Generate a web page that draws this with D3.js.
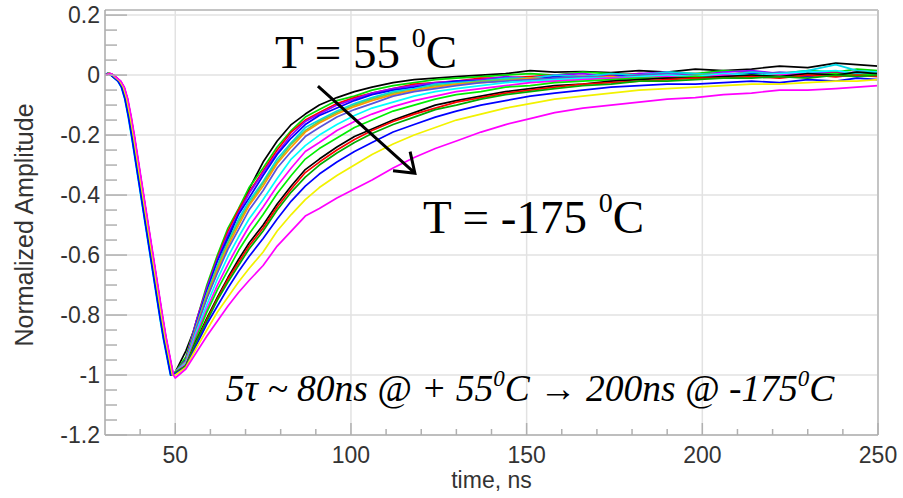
<!DOCTYPE html>
<html>
<head>
<meta charset="utf-8">
<script src="https://cdn.jsdelivr.net/npm/d3@7"></script>
<style>
  body { margin: 0; background: #fff; }
  svg { display: block; }
  .tick-label { font-family: "Liberation Sans", Arial, sans-serif; font-size: 23px; fill: #333; }
  .axis-title { font-family: "Liberation Sans", Arial, sans-serif; font-size: 23px; fill: #333; }
  .note { font-family: "Liberation Serif", "Times New Roman", serif; fill: #000; }
</style>
</head>
<body>
<svg id="chart" width="903" height="498"></svg>
<script>
// axis ticks
const xTicks = [50, 100, 150, 200, 250];
const yTicks = [0.2, 0, -0.2, -0.4, -0.6, -0.8, -1, -1.2];

// falling edge, common to all pulses
const edgeT = [30, 31, 32, 33, 34, 35, 36, 37, 38, 40, 42, 44, 46, 47, 48, 49];
const edgeV = [0, 0.005, 0, -0.01, -0.02, -0.04, -0.08, -0.14, -0.21, -0.36, -0.51, -0.66, -0.81, -0.88, -0.94, -1.0];
// small arrival-time differences of each pulse on the edge (ns)
const edgeLag = [0.3, -0.2, 0.1, 0.4, -0.3, 0.2, 0, -0.1, 0.3, -0.4, 0.2, 0.1, -0.2, 0.4, 0, -0.3, 0.2, 0.5];

// recovery sample times (ns)
const recT = [50, 53, 56, 59, 62, 65, 68, 71, 75, 79, 83, 87, 91, 96, 101, 106, 112, 118, 124, 130,
              137, 144, 151, 158, 166, 174, 182, 190, 198, 206, 214, 222, 230, 238, 244, 250];

// recovery of each temperature, fastest (55 C) to slowest (-175 C)
const s1 = [-0.99,-0.92,-0.83,-0.74,-0.64,-0.55,-0.46,-0.38,-0.29,-0.22,-0.165,-0.13,-0.1,-0.075,-0.055,-0.04,-0.025,-0.015,-0.01,-0.005,0.0,0.005,0.015,0.01,0.012,0.008,0.015,0.01,0.02,0.015,0.02,0.03,0.025,0.04,0.035,0.03];
const s2 = [-0.99,-0.94,-0.82,-0.7,-0.6,-0.51,-0.445,-0.375,-0.31,-0.24,-0.185,-0.14,-0.115,-0.085,-0.07,-0.05,-0.035,-0.025,-0.015,-0.01,-0.005,0.0,0.005,0.0,0.01,0.005,0.0,0.01,0.005,0.015,0.01,0.005,0.015,0.01,0.02,0.015];
const s3 = [-0.99,-0.95,-0.82,-0.71,-0.61,-0.52,-0.45,-0.39,-0.32,-0.25,-0.19,-0.15,-0.125,-0.095,-0.075,-0.06,-0.045,-0.03,-0.025,-0.02,-0.01,-0.01,-0.005,0.0,-0.005,0.0,0.005,0.0,0.005,0.0,0.01,0.005,0.0,0.01,0.005,0.01];
const s4 = [-0.99,-0.95,-0.82,-0.71,-0.615,-0.53,-0.46,-0.395,-0.325,-0.26,-0.2,-0.155,-0.13,-0.1,-0.08,-0.06,-0.045,-0.035,-0.025,-0.02,-0.015,-0.005,-0.01,0.0,0.005,-0.005,0.005,0.01,0.0,0.01,0.015,0.005,0.01,0.005,0.01,0.0];
const s5 = [-0.99,-0.95,-0.83,-0.72,-0.62,-0.54,-0.465,-0.41,-0.335,-0.265,-0.21,-0.165,-0.135,-0.11,-0.085,-0.065,-0.05,-0.04,-0.03,-0.02,-0.02,-0.01,-0.015,-0.005,-0.01,-0.005,0.0,-0.01,0.0,-0.005,0.005,0.0,-0.005,0.005,0.0,0.005];
const s6 = [-0.99,-0.955,-0.835,-0.73,-0.635,-0.555,-0.48,-0.42,-0.355,-0.28,-0.225,-0.175,-0.15,-0.12,-0.095,-0.075,-0.055,-0.045,-0.03,-0.025,-0.02,-0.01,-0.01,0.0,-0.005,0.005,0.0,0.01,0.005,0.0,0.01,0.005,0.015,0.035,0.015,0.01];
const s7 = [-0.99,-0.955,-0.84,-0.73,-0.64,-0.56,-0.49,-0.43,-0.36,-0.29,-0.23,-0.185,-0.155,-0.125,-0.1,-0.08,-0.06,-0.05,-0.035,-0.03,-0.02,-0.015,-0.01,-0.015,-0.005,-0.01,0.0,-0.005,0.0,0.005,-0.005,0.0,0.005,0.0,0.01,0.005];
const s8 = [-0.99,-0.955,-0.84,-0.74,-0.65,-0.57,-0.5,-0.435,-0.37,-0.295,-0.24,-0.19,-0.16,-0.13,-0.105,-0.085,-0.065,-0.05,-0.04,-0.03,-0.025,-0.02,-0.01,-0.015,-0.01,-0.005,-0.01,0.0,-0.005,0.0,-0.005,0.005,0.0,-0.005,0.005,0.0];
const s9 = [-0.99,-0.96,-0.845,-0.745,-0.66,-0.58,-0.515,-0.45,-0.385,-0.31,-0.255,-0.205,-0.175,-0.14,-0.115,-0.095,-0.07,-0.055,-0.045,-0.035,-0.025,-0.02,-0.015,-0.01,-0.005,-0.01,0.0,0.005,-0.005,0.005,0.0,0.01,0.005,0.0,0.01,0.005];
const s10 = [-0.99,-0.96,-0.855,-0.765,-0.68,-0.605,-0.54,-0.48,-0.415,-0.345,-0.28,-0.235,-0.2,-0.165,-0.135,-0.11,-0.09,-0.07,-0.055,-0.045,-0.035,-0.025,-0.02,-0.015,-0.01,-0.01,-0.005,0.0,-0.005,0.005,0.0,0.005,0.01,0.015,0.005,0.01];
const s11 = [-0.99,-0.965,-0.865,-0.78,-0.7,-0.63,-0.565,-0.505,-0.44,-0.37,-0.31,-0.255,-0.225,-0.185,-0.155,-0.13,-0.105,-0.085,-0.07,-0.055,-0.045,-0.035,-0.025,-0.02,-0.015,-0.01,-0.01,-0.005,-0.01,0.0,-0.005,0.0,0.005,-0.005,0.0,0.005];
const s12 = [-0.99,-0.97,-0.875,-0.79,-0.715,-0.65,-0.585,-0.53,-0.465,-0.395,-0.335,-0.28,-0.245,-0.21,-0.175,-0.15,-0.12,-0.1,-0.08,-0.065,-0.055,-0.04,-0.035,-0.025,-0.02,-0.015,-0.01,-0.01,-0.005,-0.01,0.0,-0.005,0.0,0.005,0.0,0.005];
const s13 = [-0.995,-0.97,-0.885,-0.81,-0.74,-0.675,-0.615,-0.56,-0.5,-0.43,-0.37,-0.315,-0.28,-0.24,-0.205,-0.18,-0.15,-0.125,-0.1,-0.085,-0.07,-0.055,-0.045,-0.035,-0.03,-0.02,-0.015,-0.01,-0.01,-0.005,0.0,-0.005,0.005,0.0,0.01,0.005];
const s14 = [-0.995,-0.97,-0.89,-0.815,-0.745,-0.68,-0.625,-0.57,-0.51,-0.44,-0.38,-0.325,-0.29,-0.25,-0.215,-0.185,-0.155,-0.13,-0.11,-0.09,-0.075,-0.06,-0.05,-0.04,-0.03,-0.025,-0.02,-0.015,-0.01,-0.01,-0.005,-0.01,0.0,-0.005,0.0,-0.005];
const s15 = [-0.995,-0.97,-0.89,-0.82,-0.75,-0.69,-0.635,-0.58,-0.52,-0.45,-0.39,-0.34,-0.3,-0.26,-0.225,-0.195,-0.165,-0.14,-0.115,-0.1,-0.08,-0.065,-0.055,-0.045,-0.035,-0.03,-0.02,-0.02,-0.015,-0.01,-0.01,-0.005,-0.01,0.0,-0.005,0.0];
const s16 = [-0.995,-0.975,-0.9,-0.83,-0.77,-0.71,-0.655,-0.605,-0.545,-0.48,-0.42,-0.37,-0.33,-0.29,-0.255,-0.225,-0.19,-0.165,-0.14,-0.12,-0.1,-0.085,-0.07,-0.06,-0.05,-0.04,-0.035,-0.03,-0.03,-0.025,-0.02,-0.025,-0.015,-0.02,-0.01,-0.015];
const s17 = [-1.0,-0.975,-0.91,-0.85,-0.79,-0.74,-0.69,-0.645,-0.59,-0.52,-0.465,-0.415,-0.375,-0.335,-0.3,-0.265,-0.23,-0.2,-0.175,-0.15,-0.13,-0.11,-0.095,-0.08,-0.07,-0.06,-0.05,-0.045,-0.04,-0.035,-0.03,-0.03,-0.025,-0.02,-0.02,-0.015];
const s18 = [-1.01,-0.98,-0.925,-0.87,-0.82,-0.77,-0.725,-0.685,-0.635,-0.57,-0.52,-0.47,-0.445,-0.41,-0.38,-0.35,-0.31,-0.275,-0.245,-0.22,-0.19,-0.165,-0.145,-0.125,-0.11,-0.1,-0.09,-0.08,-0.075,-0.065,-0.06,-0.05,-0.05,-0.045,-0.04,-0.035];

const series = [s1, s2, s3, s4, s5, s6, s7, s8, s9, s10, s11, s12, s13, s14, s15, s16, s17, s18];
const seriesColors = ["#000000", "#00dd00", "#ff0000", "#9900ff", "#0000ff", "#00d8e8", "#59d454", "#ff9900", "#5954d9",
                      "#00ffff", "#ff00ff", "#00ee00", "#000000", "#ff0000", "#00aa00", "#0000ff", "#f2f200", "#ff00ff"];

const svg = d3.select("#chart");
svg.append("rect").attr("width", 903).attr("height", 498).attr("fill", "#fff");

const x = d3.scaleLinear().domain([30, 250]).range([105, 878]);
const y = d3.scaleLinear().domain([-1.2, 0.217]).range([435, 10]);

// grid
const grid = svg.append("g");
grid.selectAll(".gx").data(xTicks.slice(0, -1)).enter().append("line")
    .attr("x1", d => x(d)).attr("x2", d => x(d))
    .attr("y1", y.range()[1]).attr("y2", y.range()[0])
    .attr("stroke", "#e2e2e2").attr("stroke-width", 1.5);
grid.selectAll(".gy").data(yTicks.slice(0, -1)).enter().append("line")
    .attr("x1", x.range()[0]).attr("x2", x.range()[1])
    .attr("y1", d => y(d)).attr("y2", d => y(d))
    .attr("stroke", "#e2e2e2").attr("stroke-width", 1.5);

// curves
svg.append("clipPath").attr("id", "clip").append("rect")
    .attr("x", x.range()[0]).attr("y", y.range()[1])
    .attr("width", x.range()[1] - x.range()[0]).attr("height", y.range()[0] - y.range()[1]);

const line = d3.line().x(d => x(d[0])).y(d => y(d[1]));

svg.append("g").attr("clip-path", "url(#clip)")
  .selectAll("path").data(series).enter().append("path")
    .attr("d", (s, k) => {
      const pts = edgeT.map((t, i) => [i === 0 ? t : t + edgeLag[k], edgeV[i]])
        .concat(recT.map((t, i) => [t, s[i]]));
      return line(pts);
    })
    .attr("fill", "none")
    .attr("stroke", (s, i) => seriesColors[i])
    .attr("stroke-width", 1.7)
    .attr("stroke-linejoin", "round");

// frame
const frame = svg.append("g");
frame.append("line").attr("x1", x.range()[0]).attr("x2", x.range()[1]).attr("y1", y.range()[1]).attr("y2", y.range()[1])
    .attr("stroke", "#c4c4c4").attr("stroke-width", 2);
frame.append("line").attr("x1", x.range()[1]).attr("x2", x.range()[1]).attr("y1", y.range()[1]).attr("y2", y.range()[0])
    .attr("stroke", "#c4c4c4").attr("stroke-width", 2);
frame.append("line").attr("x1", x.range()[0]).attr("x2", x.range()[0]).attr("y1", y.range()[1]).attr("y2", y.range()[0])
    .attr("stroke", "#a8a8a8").attr("stroke-width", 1.5);
frame.append("line").attr("x1", x.range()[0]).attr("x2", x.range()[1]).attr("y1", y.range()[0]).attr("y2", y.range()[0])
    .attr("stroke", "#a8a8a8").attr("stroke-width", 1.5);

// y ticks: major every 0.2, minor every 0.05
const yMinor = d3.range(-1.2, 0.2001, 0.05).filter(v => Math.abs(Math.round(v * 5) - v * 5) > 1e-6);
frame.selectAll(".ymin").data(yMinor).enter().append("line")
    .attr("x1", x.range()[0]).attr("x2", x.range()[0] + 12)
    .attr("y1", d => y(d)).attr("y2", d => y(d))
    .attr("stroke", "#b0b0b0").attr("stroke-width", 1.5);
frame.selectAll(".ymaj").data(yTicks).enter().append("line")
    .attr("x1", x.range()[0]).attr("x2", x.range()[0] + 22)
    .attr("y1", d => y(d)).attr("y2", d => y(d))
    .attr("stroke", "#b0b0b0").attr("stroke-width", 1.5);

// x ticks: minor every 10 ns
const xMinor = d3.range(40, 250, 10).filter(v => v % 50 !== 0);
frame.selectAll(".xmin").data(xMinor).enter().append("line")
    .attr("x1", d => x(d)).attr("x2", d => x(d))
    .attr("y1", y.range()[0]).attr("y2", y.range()[0] - 6)
    .attr("stroke", "#b0b0b0").attr("stroke-width", 1.5);
frame.selectAll(".xmaj").data(xTicks).enter().append("line")
    .attr("x1", d => x(d)).attr("x2", d => x(d))
    .attr("y1", y.range()[0]).attr("y2", y.range()[0] - 12)
    .attr("stroke", "#b0b0b0").attr("stroke-width", 1.5);

// tick labels
svg.selectAll(".ylab").data(yTicks).enter().append("text")
    .attr("class", "tick-label")
    .attr("x", x.range()[0] - 5).attr("y", d => y(d)).attr("dy", "0.36em")
    .attr("text-anchor", "end")
    .text(d => String(d));
svg.selectAll(".xlab").data(xTicks).enter().append("text")
    .attr("class", "tick-label")
    .attr("x", d => x(d)).attr("y", 463)
    .attr("text-anchor", "middle")
    .text(d => String(d));

// axis titles
svg.append("text").attr("class", "axis-title")
    .attr("transform", "translate(33,225) rotate(-90)")
    .attr("text-anchor", "middle")
    .style("font-size", "25px")
    .text("Normalized Amplitude");
svg.append("text").attr("class", "axis-title")
    .attr("x", x(140)).attr("y", 488)
    .attr("text-anchor", "middle")
    .text("time, ns");

// annotations
function tempLabel(t, v, main) {
  const txt = svg.append("text").attr("class", "note")
      .attr("x", x(t)).attr("y", y(v)).attr("font-size", 47);
  txt.append("tspan").text(main + " ");
  txt.append("tspan").attr("font-size", 28).attr("dy", -21).text("0");
  txt.append("tspan").attr("dy", 21).text("C");
}
tempLabel(78.4, 0.023, "T = 55");
tempLabel(120.5, -0.527, "T = -175");

// arrow from hot to cold
const a0 = [x(90.6), y(-0.037)], a1 = [x(118.2), y(-0.327)];
const ang = Math.atan2(a1[1] - a0[1], a1[0] - a0[0]);
const arm = 22, spread = 0.62;
svg.append("path")
    .attr("d", `M${a0[0]},${a0[1]}L${a1[0]},${a1[1]}` +
               `M${a1[0] - arm * Math.cos(ang - spread)},${a1[1] - arm * Math.sin(ang - spread)}` +
               `L${a1[0]},${a1[1]}` +
               `L${a1[0] - arm * Math.cos(ang + spread)},${a1[1] - arm * Math.sin(ang + spread)}`)
    .attr("fill", "none").attr("stroke", "#000").attr("stroke-width", 3);

// decay time note
const note = svg.append("text").attr("class", "note")
    .attr("x", x(64.4)).attr("y", y(-1.087))
    .attr("font-size", 37.5).attr("font-style", "italic");
note.append("tspan").text("5τ ~ 80ns @ + 55");
note.append("tspan").attr("font-size", 23).attr("dy", -15).text("0");
note.append("tspan").attr("dy", 15).text("C → 200ns @ -175");
note.append("tspan").attr("font-size", 23).attr("dy", -15).text("0");
note.append("tspan").attr("dy", 15).text("C");
</script>
</body>
</html>
